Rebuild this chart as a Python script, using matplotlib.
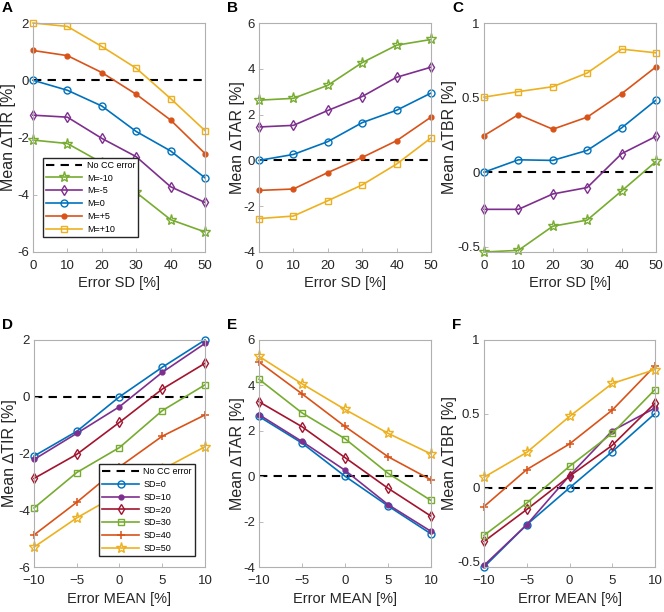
"""
Effect of CC error mean/SD on mean delta TIR, TAR, TBR
Six-panel line plot (A-C vs error SD, D-F vs error mean)
"""

import numpy as np
import matplotlib
matplotlib.use('Agg')
import matplotlib.pyplot as plt

plt.rcParams['font.family'] = ['Liberation Sans', 'DejaVu Sans']

# x values
error_sd = [0, 10, 20, 30, 40, 50]
error_mean = [-10, -5, 0, 5, 10]

# rows: error mean (-10, -5, 0, +5, +10); columns: error SD (0..50)
tir = np.array([
    [-2.09, -2.21, -2.88, -3.92, -4.87, -5.30],
    [-1.22, -1.29, -2.03, -2.67, -3.72, -4.27],
    [0.00, -0.35, -0.90, -1.79, -2.47, -3.41],
    [1.04, 0.86, 0.27, -0.49, -1.39, -2.56],
    [2.00, 1.88, 1.18, 0.42, -0.64, -1.76],
])
tar = np.array([
    [2.63, 2.71, 3.28, 4.27, 5.03, 5.28],
    [1.46, 1.53, 2.18, 2.79, 3.63, 4.07],
    [0.00, 0.26, 0.82, 1.65, 2.19, 2.94],
    [-1.31, -1.25, -0.53, 0.13, 0.86, 1.89],
    [-2.54, -2.43, -1.76, -1.07, -0.16, 0.98],
])
tbr = np.array([
    [-0.535, -0.524, -0.362, -0.321, -0.126, 0.072],
    [-0.249, -0.249, -0.146, -0.103, 0.124, 0.240],
    [0.000, 0.083, 0.079, 0.146, 0.297, 0.483],
    [0.245, 0.386, 0.288, 0.369, 0.526, 0.706],
    [0.503, 0.540, 0.573, 0.665, 0.825, 0.800],
])

mean_labels = ['M=-10', 'M=-5', 'M=0', 'M=+5', 'M=+10']
sd_labels = ['SD=0', 'SD=10', 'SD=20', 'SD=30', 'SD=40', 'SD=50']

# MATLAB default colours
blue = '#0072BD'
orange = '#D95319'
yellow = '#EDB120'
purple = '#7E2F8E'
green = '#77AC30'
darkred = '#A2142F'

mean_styles = [(green, '*'), (purple, 'd'), (blue, 'o'), (orange, '.'), (yellow, 's')]
sd_styles = [(blue, 'o'), (purple, '.'), (darkred, 'd'), (green, 's'), (orange, '+'), (yellow, '*')]

fig = plt.figure(figsize=(6.64, 6.12), dpi=100)

W, H = 664, 612


def add_axes(x0, x1, y0, y1):
    return fig.add_axes([x0 / W, 1 - y1 / H, (x1 - x0) / W, (y1 - y0) / H])


def style_marker(marker):
    if marker == '.':
        return dict(marker='o', markersize=3.5)
    if marker == '*':
        return dict(marker='*', markersize=8, markerfacecolor='none', markeredgewidth=1.0)
    if marker == '+':
        return dict(marker='+', markersize=6, markeredgewidth=1.1)
    if marker == 'd':
        return dict(marker='d', markersize=5, markerfacecolor='none', markeredgewidth=1.0)
    return dict(marker=marker, markersize=5, markerfacecolor='none', markeredgewidth=1.0)


def setup_axis(ax, xlim, xticks, ylim, yticks, xlabel, ylabel, letter, ylab_x):
    ax.set_xlim(xlim)
    ax.set_ylim(ylim)
    ax.set_xticks(xticks)
    ax.set_yticks(yticks)
    ax.set_yticklabels([('%g' % t) for t in yticks])
    ax.tick_params(direction='in', length=3, width=0.6, colors='#b0b0b0',
                   labelcolor='#262626', labelsize=9.5, pad=3)
    ax.tick_params(axis='x', pad=6)
    for s in ax.spines.values():
        s.set_color('#b0b0b0')
        s.set_linewidth(0.8)
    ax.set_xlabel(xlabel, fontsize=10.5, color='#262626', labelpad=3)
    ax.set_ylabel(ylabel, fontsize=11.5, color='#262626')
    ax.yaxis.set_label_coords(ylab_x, 0.5)
    ax.text(-0.185, 1.035, letter, transform=ax.transAxes, fontsize=11,
            fontweight='bold', ha='left', va='bottom')


def plot_panel(ax, x, rows, styles, labels, xlim):
    ax.plot(xlim, [0, 0], '--', color='black', lw=1.5, label='No CC error',
            dashes=(4, 3), zorder=1)
    for y, (col, mk), lab in zip(rows, styles, labels):
        ax.plot(x, y, color=col, lw=1.2, label=lab, clip_on=False, **style_marker(mk))


legend_kw = dict(borderaxespad=0, fontsize=6.5, handlelength=4.0, handletextpad=0.5,
                 labelspacing=0.42, borderpad=0.35, fancybox=False,
                 edgecolor='#262626', framealpha=1)

top_x = [(33, 205), (259, 431), (484, 656)]
bot_x = [(34, 205), (259, 431), (484, 655)]
ylab_pos = [-0.10, -0.08, -0.155]
metrics = [(tir, 'Mean \u2206TIR [%]', (-6, 2), [-6, -4, -2, 0, 2]),
           (tar, 'Mean \u2206TAR [%]', (-4, 6), [-4, -2, 0, 2, 4, 6]),
           (tbr, 'Mean \u2206TBR [%]', (-0.535, 1), [-0.5, 0, 0.5, 1])]
letters_top = ['A', 'B', 'C']
letters_bot = ['D', 'E', 'F']

for i, (data, ylab, ylim, yticks) in enumerate(metrics):
    # top row: against error SD, one line per error mean
    ax = add_axes(top_x[i][0], top_x[i][1], 23, 252)
    plot_panel(ax, error_sd, data, mean_styles, mean_labels, (0, 50))
    setup_axis(ax, (0, 50), error_sd, ylim, yticks, 'Error SD [%]', ylab,
               letters_top[i], ylab_pos[i])
    if i == 0:
        ax.legend(loc='lower left', bbox_to_anchor=(0.058, 0.066), **legend_kw)

    # bottom row: against error mean, one line per error SD
    ax = add_axes(bot_x[i][0], bot_x[i][1], 340, 567)
    plot_panel(ax, error_mean, data.T, sd_styles, sd_labels, (-10, 10))
    setup_axis(ax, (-10, 10), [-10, -5, 0, 5, 10], ylim, yticks,
               'Error MEAN [%]', ylab, letters_bot[i], ylab_pos[i])
    if i == 0:
        ax.legend(loc='lower right', bbox_to_anchor=(0.94, 0.048), **legend_kw)

fig.savefig('out.png', dpi=100)
